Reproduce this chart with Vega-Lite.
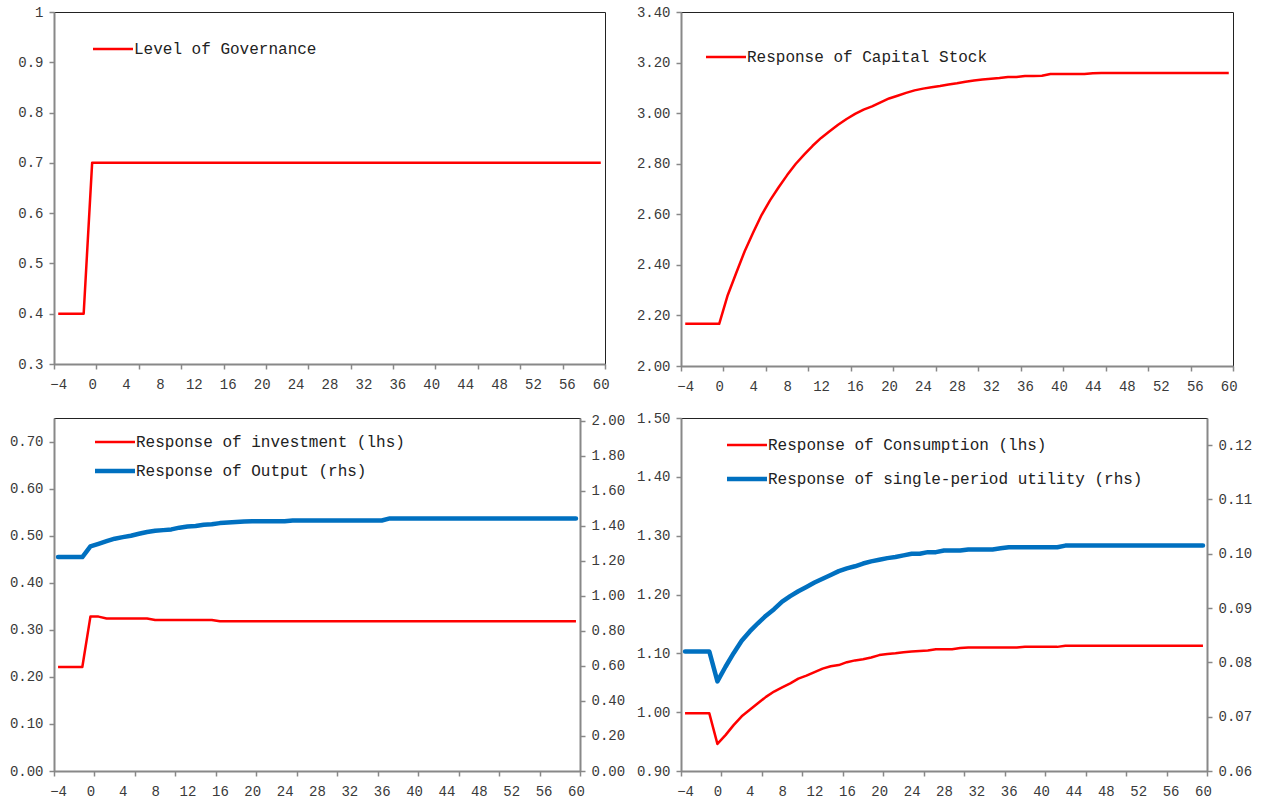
{
"$schema": "https://vega.github.io/schema/vega-lite/v6.json",
"padding": {"left": 8, "top": 4, "right": 0, "bottom": 0},
"background": "white",
"config": {
  "font": "Liberation Mono",
  "view": {"stroke": "#222222", "strokeWidth": 1},
  "axis": {"labelFont": "Liberation Mono", "labelFontSize": 14, "labelColor": "#3a3a3a", "domainColor": "#888888", "domainWidth": 2, "tickColor": "#888888", "tickWidth": 1.5, "tickSize": 5, "labelPadding": 6, "grid": false, "labelFlush": false, "labelOverlap": false},
  "legend": {"labelFont": "Liberation Mono", "labelFontSize": 16, "labelColor": "#222222", "labelLimit": 0, "padding": 0, "symbolType": "M0,0H8", "symbolSize": 100, "labelOffset": 33, "orient": "none", "title": null},
  "line": {"strokeJoin": "round"}
},
"datasets": {
  "gov": [{"t":-4,"v":0.4},{"t":-3,"v":0.4},{"t":-2,"v":0.4},{"t":-1,"v":0.4},{"t":0,"v":0.7},{"t":1,"v":0.7},{"t":2,"v":0.7},{"t":3,"v":0.7},{"t":4,"v":0.7},{"t":5,"v":0.7},{"t":6,"v":0.7},{"t":7,"v":0.7},{"t":8,"v":0.7},{"t":9,"v":0.7},{"t":10,"v":0.7},{"t":11,"v":0.7},{"t":12,"v":0.7},{"t":13,"v":0.7},{"t":14,"v":0.7},{"t":15,"v":0.7},{"t":16,"v":0.7},{"t":17,"v":0.7},{"t":18,"v":0.7},{"t":19,"v":0.7},{"t":20,"v":0.7},{"t":21,"v":0.7},{"t":22,"v":0.7},{"t":23,"v":0.7},{"t":24,"v":0.7},{"t":25,"v":0.7},{"t":26,"v":0.7},{"t":27,"v":0.7},{"t":28,"v":0.7},{"t":29,"v":0.7},{"t":30,"v":0.7},{"t":31,"v":0.7},{"t":32,"v":0.7},{"t":33,"v":0.7},{"t":34,"v":0.7},{"t":35,"v":0.7},{"t":36,"v":0.7},{"t":37,"v":0.7},{"t":38,"v":0.7},{"t":39,"v":0.7},{"t":40,"v":0.7},{"t":41,"v":0.7},{"t":42,"v":0.7},{"t":43,"v":0.7},{"t":44,"v":0.7},{"t":45,"v":0.7},{"t":46,"v":0.7},{"t":47,"v":0.7},{"t":48,"v":0.7},{"t":49,"v":0.7},{"t":50,"v":0.7},{"t":51,"v":0.7},{"t":52,"v":0.7},{"t":53,"v":0.7},{"t":54,"v":0.7},{"t":55,"v":0.7},{"t":56,"v":0.7},{"t":57,"v":0.7},{"t":58,"v":0.7},{"t":59,"v":0.7},{"t":60,"v":0.7}],
  "cap": [{"t":-4,"v":2.167},{"t":-3,"v":2.167},{"t":-2,"v":2.167},{"t":-1,"v":2.167},{"t":0,"v":2.167},{"t":1,"v":2.280},{"t":2,"v":2.368},{"t":3,"v":2.454},{"t":4,"v":2.528},{"t":5,"v":2.598},{"t":6,"v":2.656},{"t":7,"v":2.707},{"t":8,"v":2.755},{"t":9,"v":2.799},{"t":10,"v":2.836},{"t":11,"v":2.871},{"t":12,"v":2.902},{"t":13,"v":2.928},{"t":14,"v":2.954},{"t":15,"v":2.977},{"t":16,"v":2.997},{"t":17,"v":3.014},{"t":18,"v":3.027},{"t":19,"v":3.043},{"t":20,"v":3.058},{"t":21,"v":3.069},{"t":22,"v":3.080},{"t":23,"v":3.090},{"t":24,"v":3.097},{"t":25,"v":3.102},{"t":26,"v":3.107},{"t":27,"v":3.113},{"t":28,"v":3.118},{"t":29,"v":3.124},{"t":30,"v":3.129},{"t":31,"v":3.133},{"t":32,"v":3.136},{"t":33,"v":3.139},{"t":34,"v":3.143},{"t":35,"v":3.143},{"t":36,"v":3.147},{"t":37,"v":3.147},{"t":38,"v":3.148},{"t":39,"v":3.155},{"t":40,"v":3.155},{"t":41,"v":3.155},{"t":42,"v":3.155},{"t":43,"v":3.155},{"t":44,"v":3.158},{"t":45,"v":3.159},{"t":46,"v":3.159},{"t":47,"v":3.159},{"t":48,"v":3.159},{"t":49,"v":3.159},{"t":50,"v":3.159},{"t":51,"v":3.159},{"t":52,"v":3.159},{"t":53,"v":3.159},{"t":54,"v":3.159},{"t":55,"v":3.159},{"t":56,"v":3.159},{"t":57,"v":3.159},{"t":58,"v":3.159},{"t":59,"v":3.159},{"t":60,"v":3.159}],
  "inv": [{"t":-4,"v":0.221},{"t":-3,"v":0.221},{"t":-2,"v":0.221},{"t":-1,"v":0.221},{"t":0,"v":0.328},{"t":1,"v":0.328},{"t":2,"v":0.324},{"t":3,"v":0.324},{"t":4,"v":0.324},{"t":5,"v":0.324},{"t":6,"v":0.324},{"t":7,"v":0.324},{"t":8,"v":0.321},{"t":9,"v":0.321},{"t":10,"v":0.321},{"t":11,"v":0.321},{"t":12,"v":0.321},{"t":13,"v":0.321},{"t":14,"v":0.321},{"t":15,"v":0.321},{"t":16,"v":0.318},{"t":17,"v":0.318},{"t":18,"v":0.318},{"t":19,"v":0.318},{"t":20,"v":0.318},{"t":21,"v":0.318},{"t":22,"v":0.318},{"t":23,"v":0.318},{"t":24,"v":0.318},{"t":25,"v":0.318},{"t":26,"v":0.318},{"t":27,"v":0.318},{"t":28,"v":0.318},{"t":29,"v":0.318},{"t":30,"v":0.318},{"t":31,"v":0.318},{"t":32,"v":0.318},{"t":33,"v":0.318},{"t":34,"v":0.318},{"t":35,"v":0.318},{"t":36,"v":0.318},{"t":37,"v":0.318},{"t":38,"v":0.318},{"t":39,"v":0.318},{"t":40,"v":0.318},{"t":41,"v":0.318},{"t":42,"v":0.318},{"t":43,"v":0.318},{"t":44,"v":0.318},{"t":45,"v":0.318},{"t":46,"v":0.318},{"t":47,"v":0.318},{"t":48,"v":0.318},{"t":49,"v":0.318},{"t":50,"v":0.318},{"t":51,"v":0.318},{"t":52,"v":0.318},{"t":53,"v":0.318},{"t":54,"v":0.318},{"t":55,"v":0.318},{"t":56,"v":0.318},{"t":57,"v":0.318},{"t":58,"v":0.318},{"t":59,"v":0.318},{"t":60,"v":0.318}],
  "out": [{"t":-4,"v":1.221},{"t":-3,"v":1.221},{"t":-2,"v":1.221},{"t":-1,"v":1.221},{"t":0,"v":1.282},{"t":1,"v":1.297},{"t":2,"v":1.312},{"t":3,"v":1.326},{"t":4,"v":1.335},{"t":5,"v":1.343},{"t":6,"v":1.354},{"t":7,"v":1.364},{"t":8,"v":1.371},{"t":9,"v":1.375},{"t":10,"v":1.379},{"t":11,"v":1.389},{"t":12,"v":1.396},{"t":13,"v":1.399},{"t":14,"v":1.406},{"t":15,"v":1.408},{"t":16,"v":1.415},{"t":17,"v":1.418},{"t":18,"v":1.421},{"t":19,"v":1.424},{"t":20,"v":1.425},{"t":21,"v":1.425},{"t":22,"v":1.425},{"t":23,"v":1.425},{"t":24,"v":1.425},{"t":25,"v":1.430},{"t":26,"v":1.430},{"t":27,"v":1.430},{"t":28,"v":1.430},{"t":29,"v":1.430},{"t":30,"v":1.430},{"t":31,"v":1.430},{"t":32,"v":1.430},{"t":33,"v":1.430},{"t":34,"v":1.430},{"t":35,"v":1.430},{"t":36,"v":1.430},{"t":37,"v":1.442},{"t":38,"v":1.442},{"t":39,"v":1.442},{"t":40,"v":1.442},{"t":41,"v":1.442},{"t":42,"v":1.442},{"t":43,"v":1.442},{"t":44,"v":1.442},{"t":45,"v":1.442},{"t":46,"v":1.442},{"t":47,"v":1.442},{"t":48,"v":1.442},{"t":49,"v":1.442},{"t":50,"v":1.442},{"t":51,"v":1.442},{"t":52,"v":1.442},{"t":53,"v":1.442},{"t":54,"v":1.442},{"t":55,"v":1.442},{"t":56,"v":1.442},{"t":57,"v":1.442},{"t":58,"v":1.442},{"t":59,"v":1.442},{"t":60,"v":1.442}],
  "con": [{"t":-4,"v":0.998},{"t":-3,"v":0.998},{"t":-2,"v":0.998},{"t":-1,"v":0.998},{"t":0,"v":0.946},{"t":1,"v":0.961},{"t":2,"v":0.978},{"t":3,"v":0.993},{"t":4,"v":1.004},{"t":5,"v":1.015},{"t":6,"v":1.026},{"t":7,"v":1.035},{"t":8,"v":1.042},{"t":9,"v":1.049},{"t":10,"v":1.057},{"t":11,"v":1.062},{"t":12,"v":1.068},{"t":13,"v":1.074},{"t":14,"v":1.078},{"t":15,"v":1.080},{"t":16,"v":1.085},{"t":17,"v":1.088},{"t":18,"v":1.090},{"t":19,"v":1.093},{"t":20,"v":1.097},{"t":21,"v":1.099},{"t":22,"v":1.100},{"t":23,"v":1.102},{"t":24,"v":1.103},{"t":25,"v":1.104},{"t":26,"v":1.105},{"t":27,"v":1.107},{"t":28,"v":1.107},{"t":29,"v":1.107},{"t":30,"v":1.109},{"t":31,"v":1.110},{"t":32,"v":1.110},{"t":33,"v":1.110},{"t":34,"v":1.110},{"t":35,"v":1.110},{"t":36,"v":1.110},{"t":37,"v":1.110},{"t":38,"v":1.111},{"t":39,"v":1.111},{"t":40,"v":1.111},{"t":41,"v":1.111},{"t":42,"v":1.111},{"t":43,"v":1.113},{"t":44,"v":1.113},{"t":45,"v":1.113},{"t":46,"v":1.113},{"t":47,"v":1.113},{"t":48,"v":1.113},{"t":49,"v":1.113},{"t":50,"v":1.113},{"t":51,"v":1.113},{"t":52,"v":1.113},{"t":53,"v":1.113},{"t":54,"v":1.113},{"t":55,"v":1.113},{"t":56,"v":1.113},{"t":57,"v":1.113},{"t":58,"v":1.113},{"t":59,"v":1.113},{"t":60,"v":1.113}],
  "util": [{"t":-4,"v":0.0820},{"t":-3,"v":0.0820},{"t":-2,"v":0.0820},{"t":-1,"v":0.0820},{"t":0,"v":0.0765},{"t":1,"v":0.0792},{"t":2,"v":0.0817},{"t":3,"v":0.0840},{"t":4,"v":0.0857},{"t":5,"v":0.0872},{"t":6,"v":0.0886},{"t":7,"v":0.0898},{"t":8,"v":0.0912},{"t":9,"v":0.0922},{"t":10,"v":0.0931},{"t":11,"v":0.0939},{"t":12,"v":0.0947},{"t":13,"v":0.0954},{"t":14,"v":0.0961},{"t":15,"v":0.0968},{"t":16,"v":0.0973},{"t":17,"v":0.0977},{"t":18,"v":0.0982},{"t":19,"v":0.0986},{"t":20,"v":0.0989},{"t":21,"v":0.0992},{"t":22,"v":0.0994},{"t":23,"v":0.0997},{"t":24,"v":0.1000},{"t":25,"v":0.1000},{"t":26,"v":0.1003},{"t":27,"v":0.1003},{"t":28,"v":0.1006},{"t":29,"v":0.1006},{"t":30,"v":0.1006},{"t":31,"v":0.1008},{"t":32,"v":0.1008},{"t":33,"v":0.1008},{"t":34,"v":0.1008},{"t":35,"v":0.1010},{"t":36,"v":0.1012},{"t":37,"v":0.1012},{"t":38,"v":0.1012},{"t":39,"v":0.1012},{"t":40,"v":0.1012},{"t":41,"v":0.1012},{"t":42,"v":0.1012},{"t":43,"v":0.1015},{"t":44,"v":0.1015},{"t":45,"v":0.1015},{"t":46,"v":0.1015},{"t":47,"v":0.1015},{"t":48,"v":0.1015},{"t":49,"v":0.1015},{"t":50,"v":0.1015},{"t":51,"v":0.1015},{"t":52,"v":0.1015},{"t":53,"v":0.1015},{"t":54,"v":0.1015},{"t":55,"v":0.1015},{"t":56,"v":0.1015},{"t":57,"v":0.1015},{"t":58,"v":0.1015},{"t":59,"v":0.1015},{"t":60,"v":0.1015}]
},
"columns": 2,
"spacing": {"row": 16, "column": 9},
"resolve": {"scale": {"color": "independent", "strokeWidth": "independent"}},
"concat": [
  {
    "width": 551, "height": 352,
    "layer": [
      {"data": {"name": "gov"}, "mark": {"type": "line", "strokeWidth": 2.5},
       "encoding": {
         "x": {"field": "t", "type": "quantitative", "scale": {"domain": [-4.5, 60.5], "nice": false, "zero": false}, "axis": {"title": null, "values": [-4,0,4,8,12,16,20,24,28,32,36,40,44,48,52,56,60], "ticks": false, "tickSize": 0, "domain": false, "labelPadding": 13}},
         "y": {"field": "v", "type": "quantitative", "scale": {"domain": [0.3, 1], "nice": false, "zero": false}, "axis": {"title": null, "orient": "left", "values": [0.3,0.4,0.5,0.6,0.7,0.8,0.9,1], "format": ".1~f"}},
         "color": {"datum": "Level of Governance", "type": "nominal", "scale": {"range": ["#ff0000"]}, "legend": {"legendX": 31, "legendY": 29, "symbolStrokeWidth": 2.5}}
       }},
      {"data": {"name": "gov"}, "mark": {"type": "line", "opacity": 0},
       "encoding": {
         "x": {"field": "t", "type": "quantitative", "scale": {"domain": [-4.5, 60.5], "nice": false, "zero": false}, "axis": {"orient": "bottom", "title": null, "values": [-4.5,0.5,5.5,10.5,15.5,20.5,25.5,30.5,35.5,40.5,45.5,50.5,55.5,60.5], "labels": false}},
         "y": {"field": "v", "type": "quantitative", "scale": {"domain": [0.3, 1], "nice": false, "zero": false}, "axis": {"title": null, "orient": "left", "values": [0.3,0.4,0.5,0.6,0.7,0.8,0.9,1], "format": ".1~f"}}
       }}
    ],
    "resolve": {"axis": {"x": "independent"}}
  },
  {
    "width": 552, "height": 354,
    "layer": [
      {"data": {"name": "cap"}, "mark": {"type": "line", "strokeWidth": 2.5},
       "encoding": {
         "x": {"field": "t", "type": "quantitative", "scale": {"domain": [-4.5, 60.5], "nice": false, "zero": false}, "axis": {"title": null, "values": [-4,0,4,8,12,16,20,24,28,32,36,40,44,48,52,56,60], "ticks": false, "tickSize": 0, "domain": false, "labelPadding": 13}},
         "y": {"field": "v", "type": "quantitative", "scale": {"domain": [2.0, 3.4], "nice": false, "zero": false}, "axis": {"title": null, "orient": "left", "values": [2.0,2.2,2.4,2.6,2.8,3.0,3.2,3.4], "format": ".2f"}},
         "color": {"datum": "Response of Capital Stock", "type": "nominal", "scale": {"range": ["#ff0000"]}, "legend": {"legendX": 17, "legendY": 37, "symbolStrokeWidth": 2.5}}
       }},
      {"data": {"name": "cap"}, "mark": {"type": "line", "opacity": 0},
       "encoding": {
         "x": {"field": "t", "type": "quantitative", "scale": {"domain": [-4.5, 60.5], "nice": false, "zero": false}, "axis": {"orient": "bottom", "title": null, "values": [-4.5,0.5,5.5,10.5,15.5,20.5,25.5,30.5,35.5,40.5,45.5,50.5,55.5,60.5], "labels": false}},
         "y": {"field": "v", "type": "quantitative", "scale": {"domain": [2.0, 3.4], "nice": false, "zero": false}, "axis": {"title": null, "orient": "left", "values": [2.0,2.2,2.4,2.6,2.8,3.0,3.2,3.4], "format": ".2f"}}
       }}
    ],
    "resolve": {"axis": {"x": "independent"}}
  },
  {
    "width": 526, "height": 353,
    "layer": [
      {"data": {"name": "inv"}, "mark": {"type": "line"},
       "encoding": {
         "x": {"field": "t", "type": "quantitative", "scale": {"domain": [-4.5, 60.5], "nice": false, "zero": false}, "axis": {"title": null, "values": [-4,0,4,8,12,16,20,24,28,32,36,40,44,48,52,56,60], "ticks": false, "tickSize": 0, "domain": false, "labelPadding": 13}},
         "y": {"field": "v", "type": "quantitative", "scale": {"domain": [0, 0.75], "nice": false, "zero": false}, "axis": {"title": null, "orient": "left", "values": [0,0.1,0.2,0.3,0.4,0.5,0.6,0.7], "format": ".2f"}},
         "color": {"datum": "Response of investment (lhs)", "type": "nominal", "scale": {"domain": ["Response of investment (lhs)", "Response of Output (rhs)"], "range": ["#ff0000", "#0070c0"]}, "legend": {"legendX": 33, "legendY": 16, "rowPadding": 13}},
         "strokeWidth": {"datum": "Response of investment (lhs)", "type": "nominal", "scale": {"domain": ["Response of investment (lhs)", "Response of Output (rhs)"], "range": [2.5, 4.5]}, "legend": {"legendX": 33, "legendY": 16, "rowPadding": 13}}
       }},
      {"data": {"name": "out"}, "mark": {"type": "line", "strokeCap": "round"},
       "encoding": {
         "x": {"field": "t", "type": "quantitative", "scale": {"domain": [-4.5, 60.5], "nice": false, "zero": false}, "axis": {"orient": "bottom", "title": null, "values": [-4.5,0.5,5.5,10.5,15.5,20.5,25.5,30.5,35.5,40.5,45.5,50.5,55.5,60.5], "labels": false}},
         "y": {"field": "v", "type": "quantitative", "scale": {"domain": [0, 2.015], "nice": false, "zero": false}, "axis": {"title": null, "orient": "right", "values": [0,0.2,0.4,0.6,0.8,1.0,1.2,1.4,1.6,1.8,2.0], "format": ".2f"}},
         "color": {"datum": "Response of Output (rhs)", "type": "nominal"},
         "strokeWidth": {"datum": "Response of Output (rhs)", "type": "nominal"}
       }}
    ],
    "resolve": {"scale": {"y": "independent"}, "axis": {"x": "independent"}}
  },
  {
    "width": 526, "height": 353,
    "layer": [
      {"data": {"name": "con"}, "mark": {"type": "line"},
       "encoding": {
         "x": {"field": "t", "type": "quantitative", "scale": {"domain": [-4.5, 60.5], "nice": false, "zero": false}, "axis": {"title": null, "values": [-4,0,4,8,12,16,20,24,28,32,36,40,44,48,52,56,60], "ticks": false, "tickSize": 0, "domain": false, "labelPadding": 13}},
         "y": {"field": "v", "type": "quantitative", "scale": {"domain": [0.9, 1.5], "nice": false, "zero": false}, "axis": {"title": null, "orient": "left", "values": [0.9,1.0,1.1,1.2,1.3,1.4,1.5], "format": ".2f"}},
         "color": {"datum": "Response of Consumption (lhs)", "type": "nominal", "scale": {"domain": ["Response of Consumption (lhs)", "Response of single-period utility (rhs)"], "range": ["#ff0000", "#0070c0"]}, "legend": {"legendX": 38, "legendY": 19, "rowPadding": 18}},
         "strokeWidth": {"datum": "Response of Consumption (lhs)", "type": "nominal", "scale": {"domain": ["Response of Consumption (lhs)", "Response of single-period utility (rhs)"], "range": [2.5, 4.5]}, "legend": {"legendX": 38, "legendY": 19, "rowPadding": 18}}
       }},
      {"data": {"name": "util"}, "mark": {"type": "line", "strokeCap": "round"},
       "encoding": {
         "x": {"field": "t", "type": "quantitative", "scale": {"domain": [-4.5, 60.5], "nice": false, "zero": false}, "axis": {"orient": "bottom", "title": null, "values": [-4.5,0.5,5.5,10.5,15.5,20.5,25.5,30.5,35.5,40.5,45.5,50.5,55.5,60.5], "labels": false}},
         "y": {"field": "v", "type": "quantitative", "scale": {"domain": [0.06, 0.125], "nice": false, "zero": false}, "axis": {"title": null, "orient": "right", "values": [0.06,0.07,0.08,0.09,0.1,0.11,0.12], "format": ".2f"}},
         "color": {"datum": "Response of single-period utility (rhs)", "type": "nominal"},
         "strokeWidth": {"datum": "Response of single-period utility (rhs)", "type": "nominal"}
       }}
    ],
    "resolve": {"scale": {"y": "independent"}, "axis": {"x": "independent"}}
  }
]
}
